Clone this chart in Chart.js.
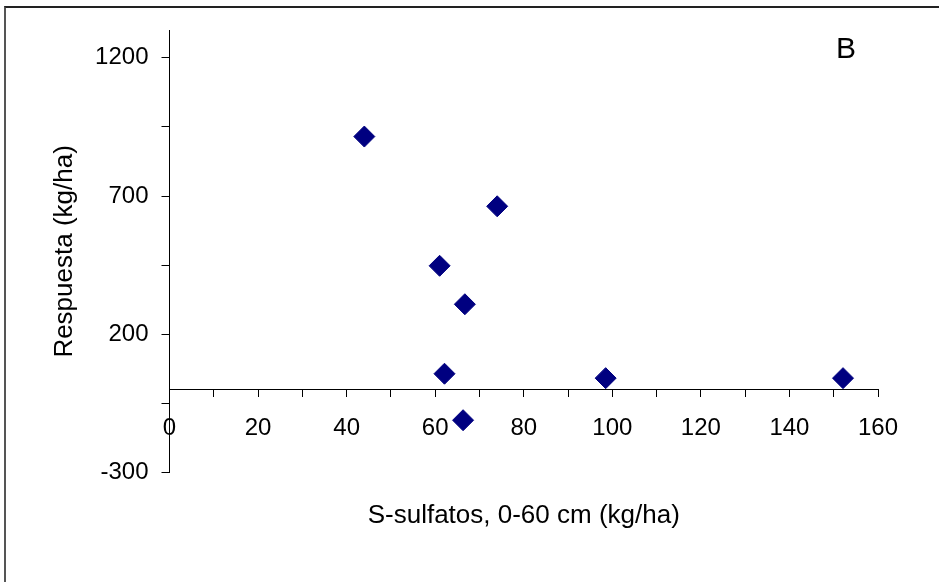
<!DOCTYPE html>
<html>
<head>
    <title>Respuesta vs S-sulfatos</title>
    <script src="https://cdn.jsdelivr.net/npm/chart.js"></script>
    <style>
        html, body { margin: 0; padding: 0; background: #fff; overflow: hidden; }
        #wrap { position: relative; width: 939px; height: 582px; }
        /* frame of the original figure, only top and left edges are visible */
        #frame { position: absolute; left: 4px; top: 6px; width: 1200px; height: 1200px;
                 border-top: 2px solid #222; border-left: 2px solid #555; }
        #chart { position: absolute; left: 0; top: 0; }
    </style>
</head>
<body>
    <div id="wrap">
        <div id="frame"></div>
        <canvas id="chart" width="939" height="582"></canvas>
    </div>

    <script>
    // S-sulfatos 0-60 cm (kg/ha) and yield response (kg/ha)
    const sulfatos  = [44, 74, 61, 66.7, 62.1, 66.3, 98.5, 152.1];
    const respuesta = [915, 663, 448, 309, 58, -110, 42, 42];

    // axis ticks
    const xTicks = [0, 10, 20, 30, 40, 50, 60, 70, 80, 90, 100, 110, 120, 130, 140, 150, 160];
    const xLabels = [0, 20, 40, 60, 80, 100, 120, 140, 160];
    const yTicks = [-300, -50, 200, 450, 700, 950, 1200];
    const yLabels = [-300, 200, 700, 1200];

    const panelLetter = 'B';
    const FONT = "'Liberation Sans', Arial, sans-serif";

    // draws the panel letter in the upper right corner of the plot
    const letterPlugin = {
        id: 'panelLetter',
        afterDraw(chart) {
            const ctx = chart.ctx;
            const area = chart.chartArea;
            ctx.save();
            ctx.font = '30px ' + FONT;
            ctx.fillStyle = '#000';
            ctx.textAlign = 'center';
            ctx.textBaseline = 'middle';
            ctx.fillText(panelLetter, area.right - 32, 50);
            ctx.restore();
        }
    };

    new Chart(document.getElementById('chart'), {
        type: 'scatter',
        data: {
            datasets: [{
                label: 'Respuesta',
                data: sulfatos.map((x, i) => ({ x: x, y: respuesta[i] })),
                pointStyle: 'rectRot',
                pointRadius: 10.5,
                pointBorderWidth: 1,
                backgroundColor: '#000080',
                borderColor: '#000080'
            }]
        },
        options: {
            responsive: false,
            animation: false,
            layout: { padding: { left: 43, right: 61, top: 30, bottom: 41 } },
            plugins: {
                legend: { display: false },
                tooltip: { enabled: false },
                title: {
                    display: true,
                    position: 'bottom',
                    fullSize: false,
                    text: 'S-sulfatos, 0-60 cm (kg/ha)',
                    color: '#000',
                    font: { family: FONT, size: 26, weight: 'normal' },
                    padding: { top: 27, bottom: 10 }
                }
            },
            scales: {
                x: {
                    type: 'linear',
                    position: { y: 0 },
                    min: 0,
                    max: 160,
                    afterBuildTicks: scale => { scale.ticks = xTicks.map(v => ({ value: v })); },
                    afterFit: scale => { scale.height = 0; },
                    ticks: {
                        autoSkip: false,
                        maxRotation: 0,
                        padding: 17,
                        color: '#000',
                        font: { family: FONT, size: 24 },
                        callback: v => xLabels.includes(v) ? String(v) : ''
                    },
                    grid: { drawOnChartArea: false, tickLength: 7, color: '#000' },
                    border: { color: '#000', width: 1 }
                },
                y: {
                    type: 'linear',
                    position: 'left',
                    min: -300,
                    max: 1300,
                    afterBuildTicks: scale => { scale.ticks = yTicks.map(v => ({ value: v })); },
                    afterFit: scale => { scale.width = 126.5; },
                    ticks: {
                        autoSkip: false,
                        padding: 13,
                        color: '#000',
                        font: { family: FONT, size: 24 },
                        callback: v => yLabels.includes(v) ? String(v) : ''
                    },
                    grid: { drawOnChartArea: false, tickLength: 8, color: '#000' },
                    border: { color: '#000', width: 1 },
                    title: {
                        display: true,
                        text: 'Respuesta (kg/ha)',
                        color: '#000',
                        font: { family: FONT, size: 26 },
                        padding: { top: 6, bottom: 2 }
                    }
                }
            }
        },
        plugins: [letterPlugin]
    });
    </script>
</body>
</html>
